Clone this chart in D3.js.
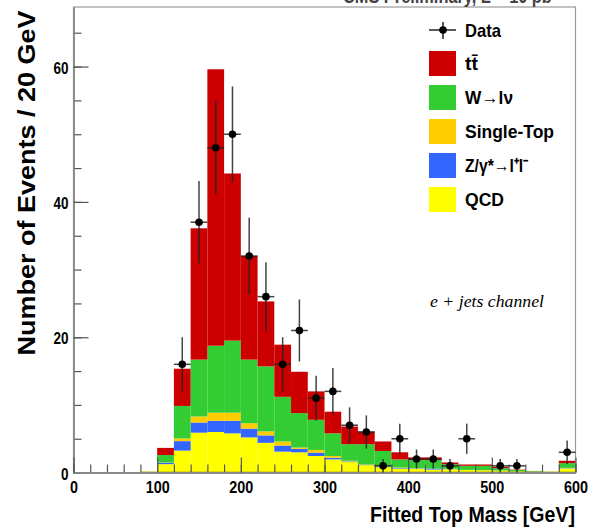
<!DOCTYPE html>
<html><head><meta charset="utf-8">
<script src="https://cdn.jsdelivr.net/npm/d3@7"></script>
<style>body{margin:0;background:#fff}</style>
</head><body>
<svg id="c" width="600" height="528" font-family="Liberation Sans, Arial, sans-serif"></svg>
<script>
// bin lower edges (GeV), 20 GeV bins
const binEdges = d3.range(0, 600, 20);
const qcd   = [0,0,0,0,0.1,1.25,3.25,5.9,6.0,5.8,5.2,4.4,3.1,3.0,2.45,1.95,1.55,1.1,0.8,0.6,0.6,0.45,0.5,0.4,0.35,0.3,0.15,0,0,0.6];
const zll   = [0,0,0,0,0,0.2,1.4,1.5,1.65,1.85,1.3,1.1,0.9,0.5,0.5,0.25,0.1,0.05,0.05,0.1,0.05,0.15,0.05,0,0,0,0,0.15,0,0.05];
const stop  = [0,0,0,0,0,0.05,0.4,0.9,1.2,1.2,0.8,0.6,0.6,0.2,0.4,0.25,0.1,0.05,0.05,0.05,0,0,0,0,0,0,0,0,0,0.05];
const wjets = [0,0,0,0,0,1.1,4.8,8.4,9.9,10.65,9.4,9.6,6.6,5.1,4.45,3.35,2.45,3.0,2.3,1.2,1.2,1.25,0.7,0.6,0.65,0.35,0.25,0.1,0,0.7];
const ttbar = [0,0,0,0,0,1.05,5.5,19.4,40.85,24.7,15.3,9.6,7.7,6.1,4.2,3.2,2.6,1.85,1.4,1.05,0.4,0.4,0.25,0.2,0.2,0.2,0.05,0,0,0.35];
const dataCounts = [0,0,0,0,0,0,16,37,48,50,32,26,16,21,11,12,7,6,1,5,2,2,1,5,0,1,1,0,0,3];
const seriesKeys = ["qcd","zll","stop","wjets","ttbar"];
const seriesColors = {qcd:"#ffff00", zll:"#3366ff", stop:"#ffcc00", wjets:"#33cc33", ttbar:"#cc0000"};
const legendLabels = ["Data","tt̄","W→lν","Single-Top","Z/γ*→l⁺l⁻","QCD"];
const xTicks = [0,100,200,300,400,500,600];
const yTicks = [0,20,40,60];

const binW = 20;
const svg = d3.select("#c");
const x = d3.scaleLinear().domain([0,600]).range([73.5,575.5]);
const y = d3.scaleLinear().domain([0,68.8]).range([472.6,7]);

const table = binEdges.map((e,i)=>({edge:e, qcd:qcd[i], zll:zll[i], stop:stop[i], wjets:wjets[i], ttbar:ttbar[i]}));
const stacked = d3.stack().keys(seriesKeys)(table);

const gBars = svg.append("g");
stacked.forEach(layer=>{
  gBars.selectAll(null).data(layer.filter(d=>d[1]-d[0]>0)).enter().append("rect")
    .attr("x", d=>x(d.data.edge))
    .attr("width", d=>x(d.data.edge+binW)-x(d.data.edge))
    .attr("y", d=>y(d[1]))
    .attr("height", d=>y(d[0])-y(d[1]))
    .attr("fill", seriesColors[layer.key]);
});
// baseline outline of the stack from 80 GeV
svg.append("line").attr("x1",x(80)).attr("x2",x(600)).attr("y1",y(0)-0.5).attr("y2",y(0)-0.5)
  .attr("stroke","#b8b800").attr("stroke-width",1.2);

// frame
svg.append("rect").attr("x",x(0)).attr("y",y(68.8)).attr("width",x(600)-x(0)).attr("height",y(0)-y(68.8))
  .attr("fill","none").attr("stroke","#999").attr("stroke-width",1.2);

// axes with inward ticks
function styleAxis(g){ g.select(".domain").attr("stroke","#888").attr("stroke-width",1.5); g.selectAll(".tick line").attr("stroke","#555").attr("stroke-width",1.2); }
const yMinor = svg.append("g").attr("transform",`translate(${x(0)},0)`)
  .call(d3.axisLeft(y).tickValues(d3.range(0,69,5)).tickSizeInner(-8).tickSizeOuter(0).tickFormat(""));
styleAxis(yMinor);
const yMajor = svg.append("g").attr("transform",`translate(${x(0)},0)`)
  .call(d3.axisLeft(y).tickValues(yTicks).tickSizeInner(-15).tickSizeOuter(0).tickPadding(5));
styleAxis(yMajor);
yMajor.selectAll("text").attr("font-size",17).attr("font-weight","bold").attr("fill","#000")
  .attr("font-family","Liberation Sans").attr("dy","0.38em")
  .attr("textLength",d=>d===0?7.5:15).attr("lengthAdjust","spacingAndGlyphs");

const xMinor = svg.append("g").attr("transform",`translate(0,${y(0)})`)
  .call(d3.axisBottom(x).tickValues(d3.range(0,601,20)).tickSizeInner(-8).tickSizeOuter(0).tickFormat(""));
styleAxis(xMinor);
const xMajor = svg.append("g").attr("transform",`translate(0,${y(0)})`)
  .call(d3.axisBottom(x).tickValues(xTicks).tickSizeInner(-15).tickSizeOuter(0).tickPadding(8));
styleAxis(xMajor);
xMajor.selectAll("text").attr("font-size",17).attr("font-weight","bold").attr("fill","#000")
  .attr("font-family","Liberation Sans")
  .attr("textLength",d=>d===0?8:24).attr("lengthAdjust","spacingAndGlyphs");

// data points
const pts = binEdges.map((e,i)=>({c:e+binW/2, e:e, n:dataCounts[i]})).filter(d=>d.n>0);
const gData = svg.append("g");
gData.selectAll(null).data(pts).enter().append("line")
  .attr("x1",d=>x(d.c)).attr("x2",d=>x(d.c)).attr("y1",d=>y(d.n+Math.sqrt(d.n))).attr("y2",d=>y(Math.max(0,d.n-Math.sqrt(d.n))))
  .attr("stroke","#222").attr("stroke-width",1.5).attr("stroke-opacity",0.85);
gData.selectAll(null).data(pts).enter().append("line")
  .attr("x1",d=>x(d.e)).attr("x2",d=>x(d.e+binW)).attr("y1",d=>y(d.n)).attr("y2",d=>y(d.n))
  .attr("stroke","#222").attr("stroke-width",1.5).attr("stroke-opacity",0.85);
gData.selectAll(null).data(pts).enter().append("circle")
  .attr("cx",d=>x(d.c)).attr("cy",d=>y(d.n)).attr("r",3.8).attr("fill","#000");

// axis titles
svg.append("text").attr("transform","translate(35,183) rotate(-90)").attr("text-anchor","middle")
  .attr("font-size",23).attr("font-weight","bold").attr("textLength",345).attr("lengthAdjust","spacingAndGlyphs")
  .text("Number of Events / 20 GeV");
svg.append("text").attr("x",575).attr("y",521.5).attr("text-anchor","end")
  .attr("font-size",22).attr("font-weight","bold").attr("textLength",205).attr("lengthAdjust","spacingAndGlyphs")
  .text("Fitted Top Mass [GeV]");
// top title (cut off by the page edge, as in the reference)
svg.append("text").attr("x",563).attr("y",3).attr("text-anchor","end")
  .attr("font-size",20).attr("font-weight","bold").attr("fill","#444").attr("textLength",220).attr("lengthAdjust","spacingAndGlyphs")
  .text("CMS Preliminary, L = 10 pb⁻¹");

// channel label
svg.append("text").attr("x",430).attr("y",307)
  .style("font-family","'Liberation Serif', 'DejaVu Serif', serif").style("font-style","italic")
  .attr("font-size",17).attr("textLength",114).attr("lengthAdjust","spacingAndGlyphs").text("e + jets channel");

// legend
const legendKeys = ["ttbar","wjets","stop","zll","qcd"];
const legendWidths = [36,13,48,89,63,39];
const lg = svg.append("g");
// Data entry
lg.append("line").attr("x1",429).attr("x2",456).attr("y1",30).attr("y2",30).attr("stroke","#222").attr("stroke-width",1.5);
lg.append("line").attr("x1",443).attr("x2",443).attr("y1",22).attr("y2",39).attr("stroke","#222").attr("stroke-width",1.5);
lg.append("circle").attr("cx",443).attr("cy",30).attr("r",3.8).attr("fill","#000");
lg.append("text").attr("x",465).attr("y",37).attr("font-size",19).attr("font-weight","bold")
  .attr("textLength",legendWidths[0]).attr("lengthAdjust","spacingAndGlyphs").text(legendLabels[0]);
legendKeys.forEach((k,i)=>{
  const top = 51 + i*34;
  lg.append("rect").attr("x",429).attr("y",top).attr("width",27).attr("height",25).attr("fill",seriesColors[k]);
  lg.append("text").attr("x",465).attr("y",top+19).attr("font-size",19).attr("font-weight","bold")
    .attr("textLength",legendWidths[i+1]).attr("lengthAdjust","spacingAndGlyphs").text(legendLabels[i+1]);
});
</script>
</body></html>
